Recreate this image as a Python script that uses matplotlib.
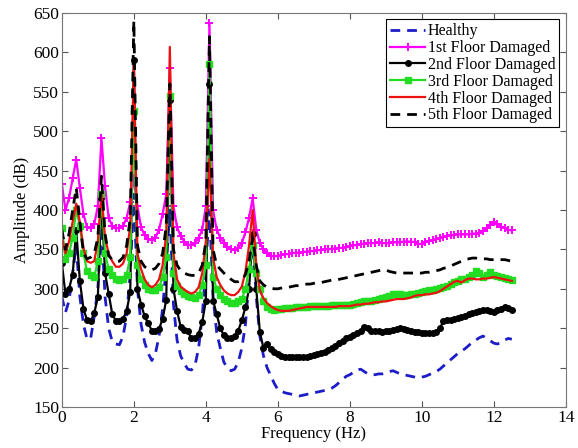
import numpy as np
import matplotlib
matplotlib.use("Agg")
import matplotlib.pyplot as plt

plt.rcParams['font.family'] = ['Liberation Serif', 'DejaVu Serif']

# frequency resolution of the spectra (Hz)
df = 0.1

healthy = [290, 270, 285, 320, 355, 290, 255, 236, 237, 265,
           300, 380, 290, 250, 233, 230, 229, 240, 265, 320,
           420, 300, 255, 232, 218, 209, 218, 240, 275, 330,
           400, 280, 235, 215, 205, 198, 197, 203, 225, 265,
           330, 400, 290, 245, 225, 207, 199, 196, 198, 207,
           225, 255, 310, 365, 290, 240, 215, 200, 190, 180,
           172, 170, 168, 167, 166, 165, 164, 165, 166, 167,
           168, 169, 170, 171, 172, 174, 177, 181, 185, 189,
           191, 194, 197, 198, 195, 192, 191, 191, 192, 192,
           193, 195, 196, 194, 192, 191, 190, 189, 188, 187,
           188, 189, 191, 193, 195, 198, 202, 206, 210, 214,
           218, 221, 224, 228, 232, 235, 238, 240, 237, 234,
           231, 230, 232, 235, 237, 236]

floor1 = [433, 400, 415, 440, 464, 428, 395, 378, 377, 382,
          405, 491, 430, 390, 380, 377, 377, 380, 390, 410,
          440, 405, 378, 368, 363, 362, 365, 375, 395, 420,
          580, 405, 378, 367, 360, 356, 355, 358, 365, 375,
          405, 637, 400, 375, 365, 358, 353, 350, 349, 352,
          358, 372, 390, 415, 375, 358, 350, 345, 342, 341,
          342, 343, 344, 344, 345, 346, 346, 347, 347, 348,
          348, 349, 349, 350, 350, 351, 351, 352, 352, 353,
          354, 355, 356, 357, 357, 358, 358, 358, 359, 358,
          358, 358, 359, 359, 359, 360, 360, 360, 359, 357,
          357, 359, 361, 362, 363, 364, 366, 367, 368, 368,
          369, 369, 369, 369, 370, 370, 371, 373, 377, 381,
          385, 382, 379, 377, 375, 374]

floor2 = [333, 293, 300, 318, 375, 310, 275, 260, 259, 269,
          290, 415, 320, 294, 268, 259, 259, 262, 272, 296,
          590, 300, 280, 265, 256, 247, 246, 249, 262, 286,
          540, 300, 272, 252, 248, 246, 237, 238, 243, 258,
          285, 560, 285, 268, 250, 241, 238, 237, 240, 247,
          260, 277, 300, 370, 300, 245, 225, 230, 223, 220,
          217, 215, 214, 213, 213, 213, 213, 213, 214, 215,
          216, 217, 218, 220, 222, 225, 228, 231, 234, 237,
          239, 241, 244, 247, 252, 250, 247, 246, 246, 245,
          246, 247, 248, 249, 250, 249, 248, 246, 245, 245,
          244, 244, 244, 244, 245, 250, 259, 260, 261, 262,
          263, 264, 266, 268, 269, 270, 272, 273, 273, 272,
          271, 273, 275, 277, 276, 273]

floor3 = [377, 338, 345, 365, 400, 380, 345, 322, 317, 315,
          335, 420, 345, 325, 318, 312, 311, 313, 318, 340,
          525, 330, 312, 305, 300, 298, 299, 302, 315, 340,
          545, 320, 303, 297, 294, 291, 289, 288, 292, 305,
          330, 585, 315, 300, 292, 287, 284, 282, 282, 284,
          287, 300, 325, 355, 320, 300, 285, 277, 274, 273,
          274, 275, 276, 276, 276, 277, 277, 277, 277, 278,
          278, 278, 278, 278, 278, 279, 279, 279, 279, 280,
          280, 281, 282, 283, 284, 284, 285, 286, 287, 288,
          289, 291, 293, 294, 293, 292, 292, 293, 294, 295,
          296, 297, 298, 299, 300, 301, 302, 304, 306, 308,
          310, 312, 313, 315, 317, 322, 320, 315, 318, 321,
          318, 316, 315, 314, 312, 311]

floor4 = [367, 345, 360, 385, 408, 385, 352, 335, 333, 335,
          360, 422, 365, 345, 335, 328, 328, 332, 345, 380,
          590, 345, 325, 312, 305, 302, 305, 312, 330, 370,
          607, 345, 312, 303, 299, 296, 294, 296, 302, 320,
          360, 465, 340, 315, 305, 298, 294, 292, 292, 296,
          303, 322, 355, 400, 330, 298, 288, 282, 278, 275,
          273, 272, 272, 272, 273, 274, 275, 276, 277, 277,
          277, 277, 277, 277, 277, 277, 277, 278, 278, 278,
          278, 279, 280, 280, 281, 281, 282, 283, 283, 284,
          284, 285, 286, 287, 287, 287, 288, 289, 291, 292,
          292, 293, 293, 294, 295, 297, 300, 303, 306, 309,
          310, 308, 311, 313, 313, 312, 312, 313, 313, 314,
          315, 314, 313, 312, 311, 310]

floor5 = [375, 350, 370, 400, 428, 385, 345, 338, 340, 345,
          365, 443, 370, 342, 337, 335, 335, 340, 355, 390,
          640, 355, 335, 328, 325, 324, 326, 332, 345, 380,
          560, 350, 330, 323, 320, 318, 317, 317, 320, 330,
          360, 620, 350, 330, 325, 320, 316, 312, 309, 309,
          311, 318, 335, 365, 330, 310, 305, 302, 301, 300,
          300, 301, 302, 302, 303, 304, 304, 305, 306, 306,
          307, 308, 308, 309, 310, 311, 311, 312, 313, 314,
          315, 316, 317, 318, 319, 320, 321, 322, 323, 324,
          324, 322, 321, 320, 320, 320, 320, 320, 320, 320,
          320, 321, 321, 322, 323, 324, 326, 327, 329, 331,
          333, 335, 337, 338, 339, 339, 338, 338, 338, 337,
          337, 337, 337, 337, 336, 335]

freq = np.arange(len(healthy)) * df

fig = plt.figure(figsize=(5.78, 4.48), dpi=100)
ax = fig.add_axes([0.107, 0.0915, 0.872, 0.8795])

ax.plot(freq, healthy, '--', color='#1c1cc8', lw=2, dashes=(3.5, 2.5), label='Healthy')
ax.plot(freq, floor1, '-', color='#ff00ff', lw=1.6, marker='+', ms=6, mew=1.4,
        label='1st Floor Damaged')
ax.plot(freq, floor2, '-', color='black', lw=1.6, marker='.', ms=8,
        label='2nd Floor Damaged')
ax.plot(freq, floor3, '-', color='#22dd22', lw=1.6, marker='s', ms=4.5,
        label='3rd Floor Damaged')
ax.plot(freq, floor4, '-', color='#ee1111', lw=1.6, label='4th Floor Damaged')
ax.plot(freq, floor5, '--', color='black', lw=2, dashes=(3.5, 2.5),
        label='5th Floor Damaged')

ax.set_xlim(0, 14)
ax.set_ylim(150, 650)
ax.set_xticks(range(0, 15, 2))
ax.set_yticks(range(150, 651, 50))
ax.tick_params(direction='in', top=True, right=True, labelsize=12.5, length=4,
               color='#555555', pad=2)
for s in ax.spines.values():
    s.set_color('#777777')
ax.set_xlabel('Frequency (Hz)', fontsize=12, labelpad=0)
ax.set_ylabel('Amplitude (dB)', fontsize=12, labelpad=2)

leg = ax.legend(loc='upper right', fontsize=11.5, handlelength=2.2,
                handletextpad=0.15, borderpad=0.25, labelspacing=0.05,
                fancybox=False, framealpha=1, borderaxespad=0.4)
leg.get_frame().set_edgecolor('black')
leg.get_frame().set_linewidth(0.8)

fig.savefig('out.png', dpi=100)
